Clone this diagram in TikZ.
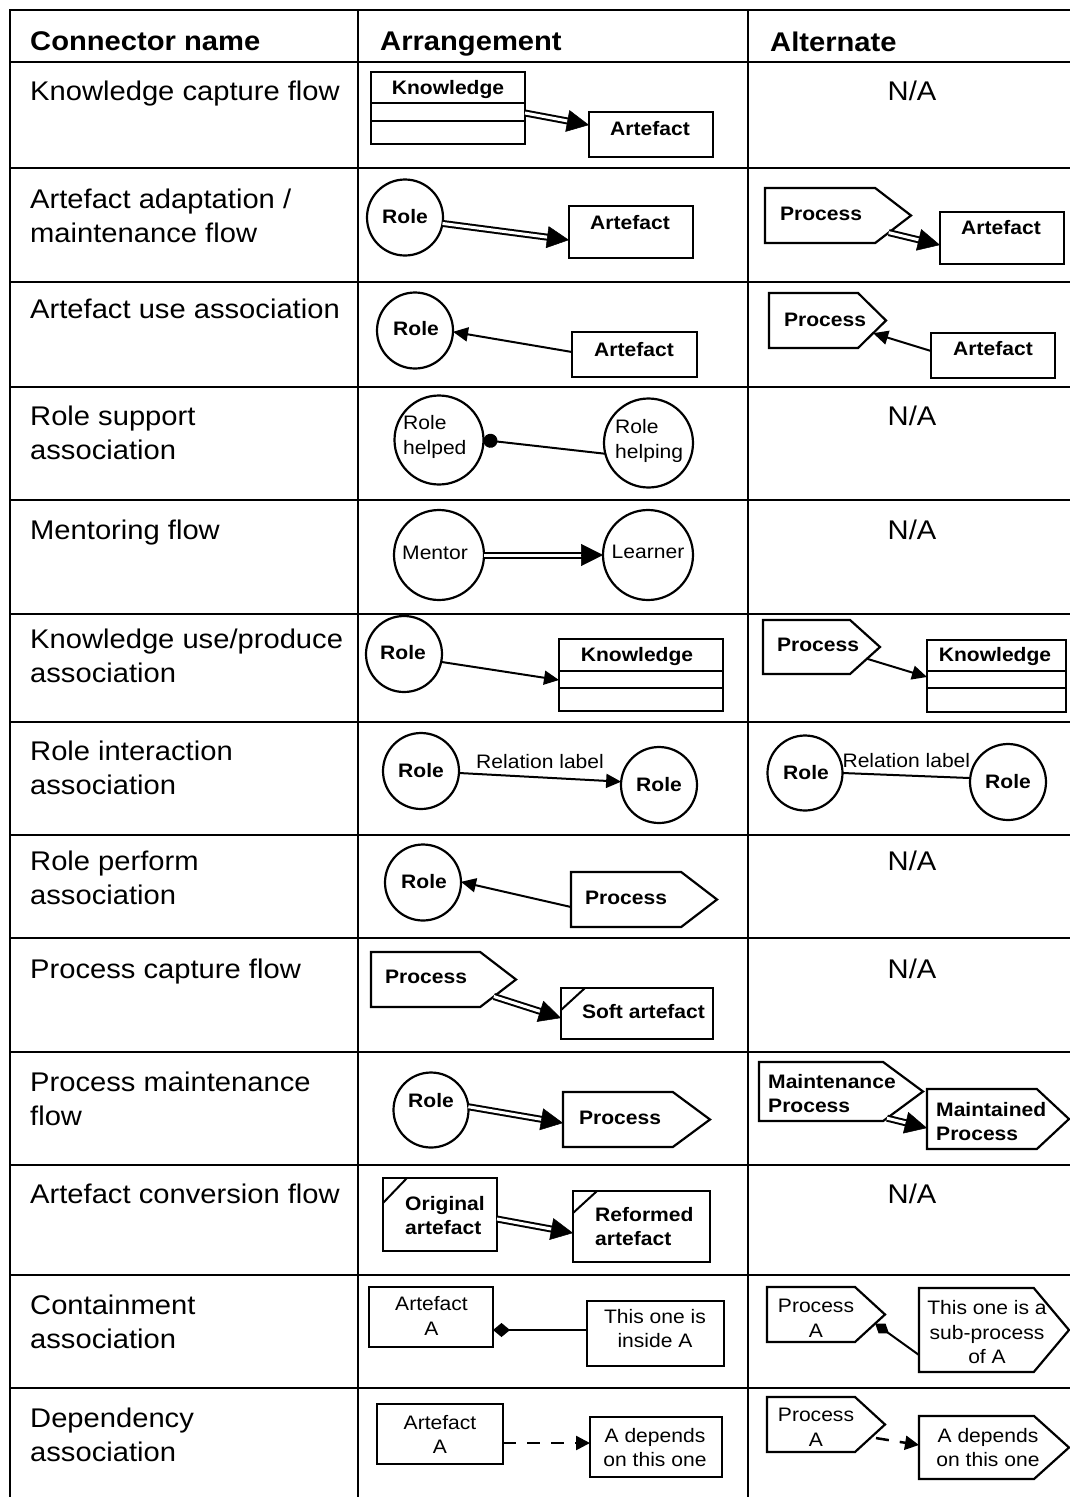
\documentclass[tikz,border=0pt]{standalone}
\usepackage{fontspec}
\setmainfont{Liberation Sans}[FakeStretch=1.08]
\usetikzlibrary{shapes.symbols,arrows.meta,calc}

\tikzset{
  tline/.style={line width=2.2pt, line cap=rect},
  lbl/.style={anchor=north west, inner sep=0pt, align=left, font=\fontsize{27}{34}\selectfont},
  hdr/.style={anchor=north west, inner sep=0pt, font=\fontsize{27}{34}\selectfont\bfseries},
  na/.style={anchor=north, inner sep=0pt, font=\fontsize{27}{34}\selectfont},
  btxt/.style={inner sep=0pt, align=center, font=\fontsize{19.5}{24.5}\selectfont\bfseries},
  rtxt/.style={inner sep=0pt, align=center, font=\fontsize{19.5}{24.5}\selectfont},
  box/.style={draw, line width=2.2pt, rectangle, inner sep=0pt, outer sep=0pt},
  role/.style={draw, line width=2.2pt, circle, inner sep=0pt, outer sep=0pt, minimum size=#1},
  proc/.style={draw, line width=2.2pt, signal, signal to=east, signal pointer angle=#1,
               inner sep=0pt, outer sep=0pt, anchor=west},
  fold/.style={line width=2pt},
  assoc/.style={line width=2pt, -{Triangle[length=15pt,width=14pt]}},
  dline/.style={line width=2pt, double=white, double distance=3pt, shorten >=12pt},
  dhead/.style={line width=0.5pt, -{Triangle[length=22pt,width=22pt]}},
  dep/.style={line width=2.5pt, dash pattern=on 13pt off 11pt, -{Triangle[length=14pt,width=14pt]}},
}

% double-lined flow with a large filled head
\newcommand\flowarrow[2]{%
  \draw[dline] (#1) -- (#2);
  \draw[dhead] ($(#2)!22pt!(#1)$) -- (#2);}

\begin{document}
\begin{tikzpicture}[x=1pt,y=-1pt]
\fill[white] (0,0) rectangle (1069,1497);
\useasboundingbox (0,0) rectangle (1069,1497);

% table rules
\foreach \yy in {10,62,168,282,387,500,614,722,835,938,1052,1165,1275,1388}
  \draw[tline] (10,\yy) -- (1069,\yy);
\foreach \xx in {10,358,748}
  \draw[tline] (\xx,10) -- (\xx,1497);

% header
\node[hdr] (hname) at (30,31.5) {Connector name};
\node[hdr] (harr) at (380,31.5) {Arrangement};
\node[hdr] (halt) at (770,31.5) {Alternate};

% connector names
\node[lbl] (n1) at (30,80.5) {Knowledge capture flow};
\node[lbl] (n2) at (30,188.5) {Artefact adaptation /\\maintenance flow};
\node[lbl] (n3) at (30,298.5) {Artefact use association};
\node[lbl] (n4) at (30,405.5) {Role support\\association};
\node[lbl] (n5) at (30,519.5) {Mentoring flow};
\node[lbl] (n6) at (30,628.5) {Knowledge use/produce\\association};
\node[lbl] (n7) at (30,740.5) {Role interaction\\association};
\node[lbl] (n8) at (30,850.5) {Role perform\\association};
\node[lbl] (n9) at (30,958.5) {Process capture flow};
\node[lbl] (n10) at (30,1071.5) {Process maintenance\\flow};
\node[lbl] (n11) at (30,1183.5) {Artefact conversion flow};
\node[lbl] (n12) at (30,1294.5) {Containment\\association};
\node[lbl] (n13) at (30,1407.5) {Dependency\\association};

% rows without an alternate
\node[na] (na1) at (912,80.5) {N/A};
\node[na] (na4) at (912,405.5) {N/A};
\node[na] (na5) at (912,519.5) {N/A};
\node[na] (na8) at (912,850.5) {N/A};
\node[na] (na9) at (912,958.5) {N/A};
\node[na] (na11) at (912,1183.5) {N/A};

% --- knowledge capture flow
\node[box, minimum width=154pt, minimum height=72pt] (k1) at (448,108) {};
\draw[box] ($(k1.north west)+(0,31)$) -- ($(k1.north east)+(0,31)$);
\draw[box] ($(k1.north west)+(0,49)$) -- ($(k1.north east)+(0,49)$);
\node[btxt] (k1t) at (448,89) {Knowledge};
\node[box, minimum width=124pt, minimum height=45pt] (a1) at (651,134.5) {};
\node[btxt] (a1t) at (650,129) {Artefact};
\coordinate (f1a) at ($(k1.east)+(0,5)$);
\coordinate (f1b) at ($(a1.west)+(0,-9.5)$);
\flowarrow{f1a}{f1b}

% --- artefact adaptation / maintenance flow
\node[role=76pt] (r2) at (405,217.5) {};
\node[btxt] (r2t) at (405,217) {Role};
\node[box, minimum width=124pt, minimum height=52pt] (a2) at (631,232) {};
\node[btxt] (a2t) at (630,223) {Artefact};
\coordinate (f2b) at ($(a2.west)+(0,8)$);
\flowarrow{r2.-9}{f2b}

\node[proc=75, minimum width=146pt, minimum height=55pt] (p2) at (765,215.5) {};
\node[btxt] (p2t) at (821,214) {Process};
\node[box, minimum width=124pt, minimum height=52pt] (a2b) at (1002,238) {};
\node[btxt] (a2bt) at (1001,228) {Artefact};
\coordinate (f2d) at ($(a2b.west)+(0,7)$);
\flowarrow{p2.-14}{f2d}

% --- artefact use association
\node[role=76pt] (r3) at (415,330.5) {};
\node[btxt] (r3t) at (416,329) {Role};
\node[box, minimum width=125pt, minimum height=45pt] (a3) at (634.5,354.5) {};
\node[btxt] (a3t) at (634,350) {Artefact};
\draw[assoc] ($(a3.west)+(0,-2.5)$) -- (r3.-2);

\node[proc=89, minimum width=117pt, minimum height=55pt] (p3) at (769,320.5) {};
\node[btxt] (p3t) at (825,320) {Process};
\node[box, minimum width=124pt, minimum height=45pt] (a3b) at (993,355.5) {};
\node[btxt] (a3bt) at (993,349) {Artefact};
\draw[assoc] ($(a3b.west)+(0,-4.5)$) -- (p3.-12);

% --- role support association
\node[role=89pt] (h4) at (439,440) {};
\node[rtxt, align=left, anchor=west] (h4t) at (403,437) {Role\\helped};
\node[role=89pt] (g4) at (648.5,443) {};
\node[rtxt, align=left, anchor=west] (g4t) at (615,441) {Role\\helping};
\draw[line width=2pt, {Circle[length=14pt]}-] (h4.east) -- (g4.194);

% --- mentoring flow
\node[role=90pt] (m5) at (439,555) {};
\node[rtxt] (m5t) at (435,553) {Mentor};
\node[role=90pt] (l5) at (648,555) {};
\node[rtxt] (l5t) at (648,552) {Learner};
\flowarrow{m5.east}{l5.west}

% --- knowledge use/produce association
\node[role=76pt] (r6) at (404,654) {};
\node[btxt] (r6t) at (403,653) {Role};
\node[box, minimum width=164pt, minimum height=72pt] (k6) at (641,675) {};
\draw[box] ($(k6.north west)+(0,32)$) -- ($(k6.north east)+(0,32)$);
\draw[box] ($(k6.north west)+(0,49)$) -- ($(k6.north east)+(0,49)$);
\node[btxt] (k6t) at (637,656) {Knowledge};
\draw[assoc] (r6.-12) -- ($(k6.west)+(0,5)$);

\node[proc=84, minimum width=117pt, minimum height=54pt] (p6) at (763,647) {};
\node[btxt] (p6t) at (818,645) {Process};
\node[box, minimum width=139pt, minimum height=72pt] (k6b) at (996.5,676) {};
\draw[box] ($(k6b.north west)+(0,31)$) -- ($(k6b.north east)+(0,31)$);
\draw[box] ($(k6b.north west)+(0,48)$) -- ($(k6b.north east)+(0,48)$);
\node[btxt] (k6bt) at (995,656) {Knowledge};
\draw[assoc] (p6.-11) -- ($(k6b.west)+(0,1)$);

% --- role interaction association
\node[role=76pt] (r7) at (421,771) {};
\node[btxt] (r7t) at (421,771) {Role};
\node[role=76pt] (s7) at (659,785) {};
\node[btxt] (s7t) at (659,785) {Role};
\draw[assoc] (r7.-3) -- node[rtxt, above=8pt] (l7) {Relation label} (s7.175);

\node[role=75pt] (r7b) at (805,773) {};
\node[btxt] (r7bt) at (806,773) {Role};
\node[role=76pt] (s7b) at (1008,782) {};
\node[btxt] (s7bt) at (1008,782) {Role};
\draw[line width=2pt] (r7b.0) -- node[rtxt, above=7pt] (l7b) {Relation label} (s7b.174);

% --- role perform association
\node[role=76pt] (r8) at (423,882.5) {};
\node[btxt] (r8t) at (424,882) {Role};
\node[proc=75, minimum width=146pt, minimum height=55pt] (p8) at (571,899.5) {};
\node[btxt] (p8t) at (626,898) {Process};
\draw[assoc] ($(p8.west)+(0,7.5)$) -- (r8.1);

% --- process capture flow
\node[proc=75, minimum width=145pt, minimum height=55pt] (p9) at (371,979.5) {};
\node[btxt] (p9t) at (426,977) {Process};
\node[box, minimum width=152pt, minimum height=51pt] (s9) at (637,1013.5) {};
\draw[fold] ($(s9.north west)+(0,22)$) -- ($(s9.north west)+(24,0)$);
\node[btxt] (s9t) at (643.5,1012) {Soft artefact};
\coordinate (f9b) at ($(s9.west)+(0,4.5)$);
\flowarrow{p9.-14.5}{f9b}

% --- process maintenance flow
\node[role=75pt] (r10) at (431,1110) {};
\node[btxt] (r10t) at (431,1101) {Role};
\node[proc=73, minimum width=147pt, minimum height=55pt] (p10) at (563,1119.5) {};
\node[btxt] (p10t) at (620,1117.5) {Process};
\coordinate (f10b) at ($(p10.west)+(0,3.5)$);
\flowarrow{r10.5}{f10b}

\node[proc=73, minimum width=164pt, minimum height=59pt] (p10b) at (759,1091.5) {};
\node[btxt, align=left, anchor=west] (p10bt) at (768,1093.5) {Maintenance\\Process};
\node[proc=86, minimum width=142pt, minimum height=60pt] (p10c) at (927,1119) {};
\node[btxt, align=left, anchor=west] (p10ct) at (936,1121.5) {Maintained\\Process};
\coordinate (f10d) at ($(p10c.west)+(0,9)$);
\flowarrow{p10b.-22}{f10d}

% --- artefact conversion flow
\node[box, minimum width=114pt, minimum height=73pt] (o11) at (440,1214.5) {};
\draw[fold] ($(o11.north west)+(0,25)$) -- ($(o11.north west)+(24,0)$);
\node[btxt, align=left, anchor=west] (o11t) at (405,1215.5) {Original\\artefact};
\node[box, minimum width=137pt, minimum height=71pt] (f11) at (641.5,1226.5) {};
\draw[fold] ($(f11.north west)+(0,22)$) -- ($(f11.north west)+(24,0)$);
\node[btxt, align=left, anchor=west] (f11t) at (595,1226.5) {Reformed\\artefact};
\coordinate (c11a) at ($(o11.east)+(0,4.5)$);
\coordinate (c11b) at ($(f11.west)+(0,6.5)$);
\flowarrow{c11a}{c11b}

% --- containment association
\node[box, minimum width=124pt, minimum height=60pt] (a12) at (431,1317) {};
\node[rtxt] (a12t) at (431.5,1316) {Artefact\\A};
\node[box, minimum width=137pt, minimum height=65pt] (i12) at (655.5,1333.5) {};
\node[rtxt] (i12t) at (655,1328.5) {This one is\\inside A};
\draw[line width=2pt, {Diamond[length=17pt,width=14pt]}-] ($(a12.east)+(0,13)$) -- ($(i12.west)+(0,-3.5)$);

\node[proc=85, minimum width=118pt, minimum height=55pt] (p12) at (767,1314.5) {};
\node[rtxt] (p12t) at (816,1318.5) {Process\\A};
\node[proc=100, minimum width=150pt, minimum height=84pt] (q12) at (919,1330) {};
\node[rtxt] (q12t) at (987,1332.5) {This one is a\\sub-process\\of A};
\draw[line width=2pt, {Diamond[length=17pt,width=12pt]}-] (p12.-8) -- ($(q12.west)+(0,25)$);

% --- dependency association
\node[box, minimum width=126pt, minimum height=60pt] (a13) at (440,1434) {};
\node[rtxt] (a13t) at (440,1434.5) {Artefact\\A};
\node[box, minimum width=132pt, minimum height=60pt] (d13) at (656,1447) {};
\node[rtxt] (d13t) at (655,1447.5) {A depends\\on this one};
\draw[dep] ($(a13.east)+(0,9)$) -- ($(d13.west)+(0,-4)$);

\node[proc=85, minimum width=118pt, minimum height=55pt] (p13) at (767,1424.5) {};
\node[rtxt] (p13t) at (816,1427.5) {Process\\A};
\node[proc=84, minimum width=150pt, minimum height=63pt] (q13) at (919,1447.5) {};
\node[rtxt] (q13t) at (988,1447.5) {A depends\\on this one};
\draw[dep, shorten <=5pt] (p13.-12) -- ($(q13.west)+(0,-2.5)$);
\end{tikzpicture}
\end{document}
